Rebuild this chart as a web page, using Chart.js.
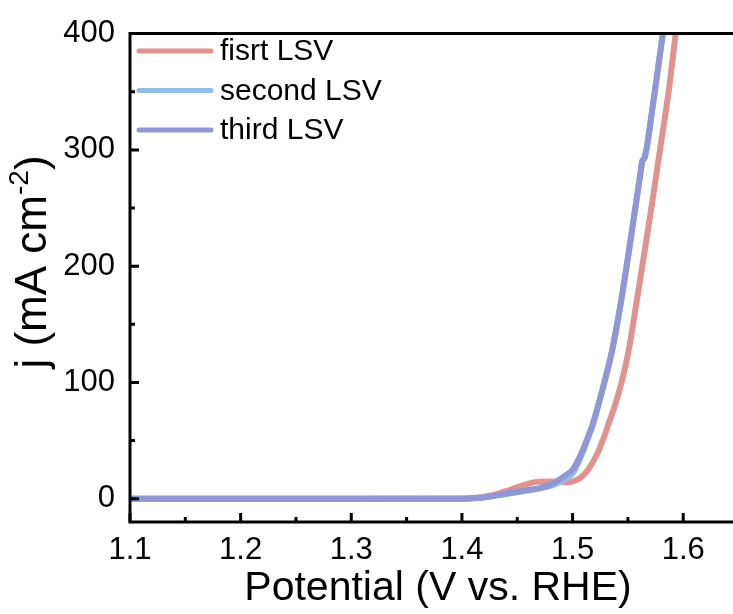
<!doctype html>
<html lang="en">
<head>
  <meta charset="utf-8">
  <title>LSV</title>
  <script src="https://cdn.jsdelivr.net/npm/chart.js"></script>
  <style>
    html, body {
      margin: 0;
      padding: 0;
      background: #ffffff;
    }
    #box {
      width: 733px;
      height: 614px;
    }
  </style>
</head>
<body>
  <div id="box"><canvas id="lsvChart" width="733" height="614"></canvas></div>

  <script>
    // Potential (V vs. RHE) and current density j (mA cm-2)
    const firstV  = [1.100, 1.300, 1.400, 1.416, 1.428, 1.440, 1.452, 1.4677, 1.480, 1.4948, 1.502, 1.507, 1.514, 1.522, 1.528, 1.5335, 1.5395, 1.5445, 1.5505, 1.5578, 1.5630, 1.5712, 1.5790, 1.5868, 1.5932];
    const firstJ  = [0, 0, 0.2, 1, 3, 6.5, 10.5, 14.5, 14.8, 14, 15.5, 18, 25, 38, 52, 67, 84, 101, 126.5, 169, 200, 250, 300, 350, 400];

    const secondV = [1.100, 1.300, 1.400, 1.412, 1.425, 1.436, 1.446, 1.458, 1.471, 1.480, 1.489, 1.495, 1.501, 1.5075, 1.5135, 1.5185, 1.5225, 1.5290, 1.5355, 1.5437, 1.5495, 1.5567, 1.5618, 1.5628, 1.5650, 1.5728, 1.5816];
    const secondJ = [0, 0, 0, 0.5, 1.8, 3.4, 5, 6.8, 9, 11, 14.5, 18, 23, 36, 51, 64, 78, 101, 126.5, 169, 204, 250, 283, 290, 293, 340, 400];

    const thirdV  = [1.100, 1.300, 1.400, 1.412, 1.425, 1.436, 1.446, 1.458, 1.471, 1.480, 1.489, 1.495, 1.5005, 1.5075, 1.5135, 1.5185, 1.5225, 1.5290, 1.5355, 1.5437, 1.5495, 1.5567, 1.5618, 1.5628, 1.5650, 1.5728, 1.5816];
    const thirdJ  = [0, 0, 0, 0.6, 2, 3.8, 5.4, 7.2, 9.4, 12, 17, 21, 25.6, 38, 52, 65, 78, 101, 126.5, 169, 204, 250, 283, 290, 293, 340, 400];

    const seriesLabels = ["fisrt LSV", "second LSV", "third LSV"];
    const seriesColors = ["#e0928e", "#8fbde6", "#9196d4"];
    const xTicks = [1.1, 1.2, 1.3, 1.4, 1.5, 1.6];
    const yTicks = [0, 100, 200, 300, 400];

    const fontName = '"Liberation Sans", Arial, sans-serif';

    function toPoints(xs, ys) {
      return xs.map((x, i) => ({ x: x, y: ys[i] }));
    }

    // ejes con marcas hacia dentro, titulos y leyenda
    const framePlugin = {
      id: "frame",
      afterDraw(chart) {
        const ctx = chart.ctx;
        const a = chart.chartArea;
        const xs = chart.scales.x;
        const ys = chart.scales.y;

        ctx.save();
        ctx.strokeStyle = "#000";
        ctx.lineWidth = 3;
        ctx.lineCap = "butt";
        ctx.beginPath();
        ctx.moveTo(a.right + 2, a.top);
        ctx.lineTo(a.left, a.top);
        ctx.lineTo(a.left, a.bottom);
        ctx.lineTo(a.right + 2, a.bottom);
        ctx.stroke();

        // marcas del eje x
        ctx.beginPath();
        xTicks.forEach(v => {
          const px = xs.getPixelForValue(v);
          ctx.moveTo(px, a.bottom);
          ctx.lineTo(px, a.bottom - 9);
          const mx = xs.getPixelForValue(v + 0.05);
          if (mx < a.right) {
            ctx.moveTo(mx, a.bottom);
            ctx.lineTo(mx, a.bottom - 5);
          }
        });
        // marcas del eje y
        yTicks.forEach(v => {
          const py = ys.getPixelForValue(v);
          ctx.moveTo(a.left, py);
          ctx.lineTo(a.left + 9, py);
          if (v + 50 < 400) {
            const my = ys.getPixelForValue(v + 50);
            ctx.moveTo(a.left, my);
            ctx.lineTo(a.left + 5, my);
          }
        });
        ctx.stroke();

        // titulo eje x
        ctx.fillStyle = "#000";
        ctx.font = "41px " + fontName;
        ctx.textAlign = "center";
        ctx.textBaseline = "middle";
        ctx.fillText("Potential (V vs. RHE)", 438, 589);

        // titulo eje y con superindice
        ctx.save();
        ctx.translate(34, 262);
        ctx.rotate(-Math.PI / 2);
        ctx.textAlign = "left";
        const mainFont = "44px " + fontName;
        const supFont = "28px " + fontName;
        ctx.font = mainFont;
        const w1 = ctx.measureText("j (mA cm").width;
        const w3 = ctx.measureText(")").width;
        ctx.font = supFont;
        const w2 = ctx.measureText("-2").width;
        const x0 = -(w1 + w2 + w3) / 2;
        ctx.font = mainFont;
        ctx.fillText("j (mA cm", x0, 0);
        ctx.font = supFont;
        ctx.fillText("-2", x0 + w1, -14);
        ctx.font = mainFont;
        ctx.fillText(")", x0 + w1 + w2, 0);
        ctx.restore();

        // leyenda
        const rows = [51, 90.5, 130];
        ctx.font = "30px " + fontName;
        ctx.textAlign = "left";
        ctx.textBaseline = "middle";
        chart.data.datasets.forEach((ds, i) => {
          ctx.strokeStyle = ds.borderColor;
          ctx.lineWidth = 5;
          ctx.lineCap = "round";
          ctx.beginPath();
          ctx.moveTo(139, rows[i]);
          ctx.lineTo(211, rows[i]);
          ctx.stroke();
          ctx.fillStyle = "#000";
          ctx.fillText(ds.label, 220, rows[i] + 1);
        });
        ctx.restore();
      }
    };

    const lsvChart = new Chart(document.getElementById("lsvChart"), {
      type: "scatter",
      data: {
        datasets: [
          { label: seriesLabels[0], data: toPoints(firstV, firstJ), order: 3 },
          { label: seriesLabels[1], data: toPoints(secondV, secondJ), order: 2 },
          { label: seriesLabels[2], data: toPoints(thirdV, thirdJ), order: 1 }
        ].map((ds, i) => Object.assign(ds, {
          showLine: true,
          borderColor: seriesColors[i],
          backgroundColor: seriesColors[i],
          borderWidth: 6,
          pointRadius: 0,
          cubicInterpolationMode: "monotone"
        }))
      },
      options: {
        responsive: false,
        animation: false,
        layout: { padding: { top: 30, left: 0, right: 0, bottom: 0 } },
        plugins: {
          legend: { display: false },
          tooltip: { enabled: false }
        },
        scales: {
          x: {
            type: "linear",
            min: 1.1,
            max: 1.645,
            afterBuildTicks: s => { s.ticks = xTicks.map(v => ({ value: v })); },
            afterFit: s => { s.height = 92; },
            grid: { display: false, drawTicks: false },
            border: { display: false },
            ticks: {
              color: "#000",
              padding: 10,
              maxRotation: 0,
              autoSkip: false,
              font: { family: fontName, size: 31 },
              callback: v => v.toFixed(1)
            }
          },
          y: {
            min: -20,
            max: 400,
            afterBuildTicks: s => { s.ticks = yTicks.map(v => ({ value: v })); },
            afterFit: s => { s.width = 130; },
            grid: { display: false, drawTicks: false },
            border: { display: false },
            ticks: {
              color: "#000",
              padding: 15,
              font: { family: fontName, size: 31 },
              callback: v => String(v)
            }
          }
        }
      },
      plugins: [framePlugin]
    });
  </script>
</body>
</html>
